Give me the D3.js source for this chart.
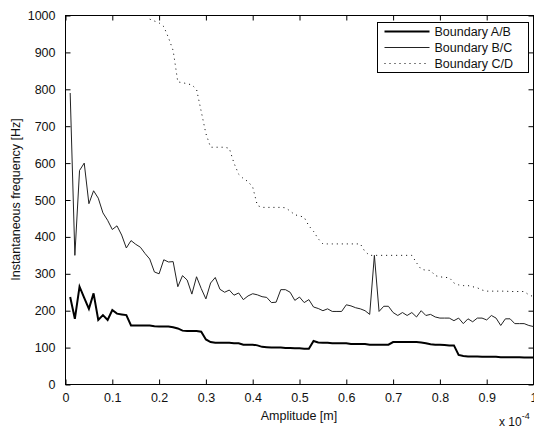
<!DOCTYPE html>
<html>
<head>
<meta charset="utf-8">
<script src="https://cdn.jsdelivr.net/npm/d3@7"></script>
<style>
	body { margin: 0; background: #fff; }
	svg { display: block; font-family: "Liberation Sans", Arial, sans-serif; }
</style>
</head>
<body>
<div id="chart"></div>
<script>
// amplitude samples, in units of 1e-4 m
const amplitude = [
	0.01, 0.02, 0.03, 0.04, 0.05, 0.06, 0.07, 0.08, 0.09, 0.10,
	0.11, 0.12, 0.13, 0.14, 0.15, 0.16, 0.17, 0.18, 0.19, 0.20,
	0.21, 0.22, 0.23, 0.24, 0.25, 0.26, 0.27, 0.28, 0.29, 0.30,
	0.31, 0.32, 0.33, 0.34, 0.35, 0.36, 0.37, 0.38, 0.39, 0.40,
	0.41, 0.42, 0.43, 0.44, 0.45, 0.46, 0.47, 0.48, 0.49, 0.50,
	0.51, 0.52, 0.53, 0.54, 0.55, 0.56, 0.57, 0.58, 0.59, 0.60,
	0.61, 0.62, 0.63, 0.64, 0.65, 0.66, 0.67, 0.68, 0.69, 0.70,
	0.71, 0.72, 0.73, 0.74, 0.75, 0.76, 0.77, 0.78, 0.79, 0.80,
	0.81, 0.82, 0.83, 0.84, 0.85, 0.86, 0.87, 0.88, 0.89, 0.90,
	0.91, 0.92, 0.93, 0.94, 0.95, 0.96, 0.97, 0.98, 0.99, 1.00
];

// instantaneous frequency [Hz]
const boundaryAB = [
	237, 178, 265, 235, 205, 247, 175, 188, 175, 202,
	192, 190, 188, 160, 160, 160, 160, 160, 158, 157,
	157, 157, 155, 152, 146, 145, 145, 145, 143, 122,
	115, 113, 113, 113, 113, 112, 112, 108, 108, 108,
	106, 102, 101, 100, 100, 100, 99, 99, 98, 98,
	97, 97, 118, 114, 113, 113, 112, 112, 112, 112,
	110, 110, 110, 110, 108, 108, 108, 108, 108, 115,
	115, 115, 115, 115, 115, 114, 112, 109, 108, 108,
	107, 106, 106, 80, 77, 76, 76, 76, 75, 75,
	75, 75, 74, 74, 74, 74, 74, 73, 73, 73
];

const boundaryBC = [
	790, 350, 580, 600, 490, 525, 505, 465, 445, 420,
	430, 405, 370, 390, 380, 372, 355, 340, 305, 300,
	338, 332, 333, 265, 295, 283, 245, 292, 260, 232,
	275, 290, 258, 250, 256, 242, 248, 230, 240, 246,
	243, 238, 236, 222, 223, 257, 257, 250, 228, 237,
	222, 230, 210, 206, 200, 205, 198, 198, 198, 216,
	213, 208, 205, 200, 190, 350, 198, 212, 212, 195,
	187, 195, 187, 195, 183, 200, 187, 190, 183, 180,
	180, 180, 173, 180, 165, 178, 170, 180, 180, 175,
	187, 180, 160, 178, 178, 165, 165, 165, 160, 157
];

// above 1000 Hz (off the plot) before 0.18
const boundaryCD = [
	null, null, null, null, null, null, null, null, null, null,
	null, null, null, null, null, null, null, 990, 985, 980,
	970, 940, 905, 820, 818, 815, 812, 800, 740, 680,
	643, 643, 643, 643, 640, 600, 570, 558, 550, 535,
	485, 480, 480, 480, 480, 480, 479, 470, 460, 457,
	453, 430, 415, 395, 381, 381, 381, 381, 381, 381,
	381, 381, 381, 360, 350, 350, 350, 350, 350, 350,
	350, 350, 350, 350, 330, 312, 310, 309, 295, 292,
	290, 290, 275, 270, 268, 268, 265, 262, 256, 253,
	253, 253, 253, 253, 252, 252, 252, 252, 243, 238
];

const seriesNames = ["Boundary A/B", "Boundary B/C", "Boundary C/D"];
const xTicks = [0, 0.1, 0.2, 0.3, 0.4, 0.5, 0.6, 0.7, 0.8, 0.9, 1];
const yTicks = [0, 100, 200, 300, 400, 500, 600, 700, 800, 900, 1000];

(function (d3) {
	"use strict";
	const W = 534, H = 430;
	const margin = { top: 15, right: 1, bottom: 46, left: 65 };
	const width = W - margin.left - margin.right,
		height = H - margin.top - margin.bottom;
	const fontSize = "12.5px";

	const svg = d3.select("#chart").append("svg")
		.attr("width", W)
		.attr("height", H);
	const g = svg.append("g")
		.attr("transform", "translate(" + (margin.left + 0.5) + "," + (margin.top + 0.5) + ")");

	const x = d3.scaleLinear().domain([0, 1]).range([0, width]);
	const y = d3.scaleLinear().domain([0, 1000]).range([height, 0]);

	// axes, ticks pointing inward, box all round
	const fmt = d => d === 0 ? "0" : d3.format("~g")(d);
	const styleAxis = sel => {
		sel.select(".domain").remove();
		sel.selectAll("line").attr("stroke", "#000");
		sel.selectAll("text").attr("fill", "#111").style("font-size", fontSize)
			.style("font-family", "'Liberation Sans', Arial, sans-serif");
	};
	g.append("g").attr("transform", "translate(0," + height + ")")
		.call(d3.axisBottom(x).tickValues(xTicks).tickFormat(fmt).tickSizeInner(-5).tickSizeOuter(0).tickPadding(9))
		.call(styleAxis);
	g.append("g")
		.call(d3.axisTop(x).tickValues(xTicks).tickFormat("").tickSizeInner(-5).tickSizeOuter(0))
		.call(styleAxis);
	g.append("g")
		.call(d3.axisLeft(y).tickValues(yTicks).tickFormat(fmt).tickSizeInner(-5).tickSizeOuter(0).tickPadding(10))
		.call(styleAxis);
	g.append("g").attr("transform", "translate(" + width + ",0)")
		.call(d3.axisRight(y).tickValues(yTicks).tickFormat("").tickSizeInner(-5).tickSizeOuter(0))
		.call(styleAxis);

	g.append("rect")
		.attr("width", width).attr("height", height)
		.attr("fill", "none").attr("stroke", "#000");

	// the three curves
	svg.append("clipPath").attr("id", "plotclip")
		.append("rect").attr("x", -1).attr("y", -1).attr("width", width + 2).attr("height", height + 2);
	const line = d3.line()
		.defined(d => d[1] !== null)
		.x(d => x(d[0]))
		.y(d => y(d[1]));
	const curves = [
		{ values: boundaryAB, width: 2, dash: null, color: "#000" },
		{ values: boundaryBC, width: 1, dash: null, color: "#222" },
		{ values: boundaryCD, width: 1, dash: "1,4", color: "#000" }
	];
	const plot = g.append("g").attr("clip-path", "url(#plotclip)");
	curves.forEach(c => {
		plot.append("path")
			.datum(amplitude.map((a, i) => [a, c.values[i]]))
			.attr("fill", "none")
			.attr("stroke", c.color)
			.attr("stroke-width", c.width)
			.attr("stroke-dasharray", c.dash)
			.attr("d", line);
	});

	// legend
	const legend = g.append("g").attr("transform", "translate(312,7)");
	legend.append("rect")
		.attr("width", 151).attr("height", 50)
		.attr("fill", "#fff").attr("stroke", "#000");
	seriesNames.forEach((name, i) => {
		const row = legend.append("g").attr("transform", "translate(0," + (9 + i * 16) + ")");
		row.append("line")
			.attr("x1", 7).attr("x2", 52)
			.attr("stroke", curves[i].color)
			.attr("stroke-width", curves[i].width)
			.attr("stroke-dasharray", curves[i].dash);
		row.append("text")
			.attr("x", 57).attr("dy", "0.35em")
			.attr("fill", "#111")
			.style("font-size", fontSize)
			.text(name);
	});

	// axis titles
	svg.append("text")
		.attr("x", margin.left + width / 2).attr("y", 420)
		.attr("text-anchor", "middle")
		.attr("fill", "#111")
		.style("font-size", fontSize)
		.text("Amplitude [m]");
	svg.append("text")
		.attr("transform", "translate(20," + (margin.top + height / 2) + ") rotate(-90)")
		.attr("text-anchor", "middle")
		.attr("fill", "#111")
		.style("font-size", fontSize)
		.text("Instantaneous frequency [Hz]");

	// exponent label
	const expo = svg.append("text")
		.attr("x", 499).attr("y", 426)
		.attr("fill", "#111")
		.style("font-size", "12px");
	expo.append("tspan").text("x 10");
	expo.append("tspan").attr("dy", -7).style("font-size", "9px").text("-4");
})(d3);
</script>
</body>
</html>
